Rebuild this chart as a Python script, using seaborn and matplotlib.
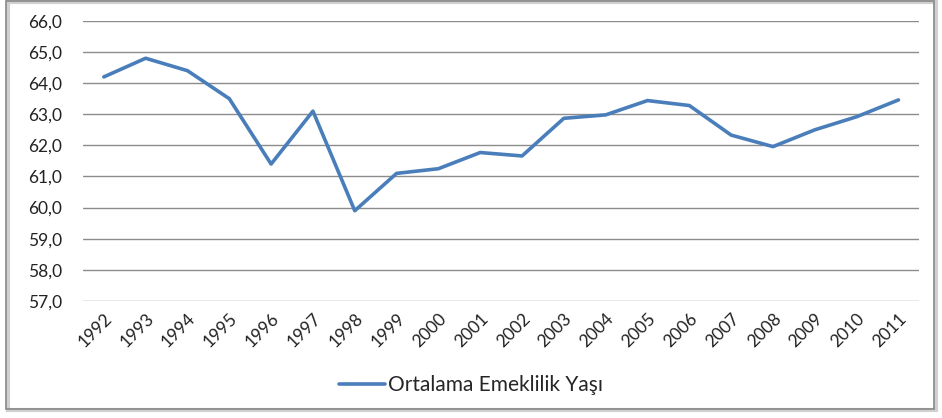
import pandas as pd
import seaborn as sns
import matplotlib.pyplot as plt
from matplotlib.patches import Rectangle

sns.set_style('white')
plt.rcParams['font.family'] = ['Lato', 'DejaVu Sans']

years = [str(y) for y in range(1992, 2012)]
age = [64.2, 64.8, 64.4, 63.5, 61.4, 63.1, 59.9, 61.1, 61.25, 61.77,
       61.66, 62.87, 62.98, 63.44, 63.28, 62.33, 61.96, 62.5, 62.92, 63.46]
series_name = 'Ortalama Emeklilik Yaşı'

df = pd.DataFrame({'year': years, 'age': age})

fig = plt.figure(figsize=(9.42, 4.18), dpi=100)
ax = fig.add_axes([0.088, 0.280, 0.888, 0.670])

sns.lineplot(data=df, x='year', y='age', ax=ax, color='#4a7ebb',
             linewidth=2.6, label=series_name, sort=False)

ax.set_xlim(-0.5, len(years) - 0.5)
ax.set_ylim(57, 66)
ax.set_yticks(range(57, 67))
ax.set_yticklabels([f'{v},0' for v in range(57, 67)])
ax.set_xticks(range(len(years)))
ax.set_xticklabels(years, rotation=45, ha='right', rotation_mode='anchor')
ax.tick_params(axis='both', labelsize=12.5, colors='#222222', length=0)
ax.tick_params(axis='y', pad=15)
ax.tick_params(axis='x', pad=7)
ax.yaxis.grid(True, color='#8c8c8c', linewidth=1)
ax.set_axisbelow(True)
for s in ax.spines.values():
    s.set_visible(False)
ax.set_xlabel('')
ax.set_ylabel('')

ax.legend(loc='center', bbox_to_anchor=(0.5, 0.079), bbox_transform=fig.transFigure,
          frameon=False, fontsize=15, handlelength=2.2, handletextpad=0.15)

# chart border with light shadow
fig.patches.append(Rectangle((0.009, 0.018), 0.985, 0.978, transform=fig.transFigure,
                             fill=False, edgecolor='#d0d0d0', linewidth=3, zorder=0))
fig.patches.append(Rectangle((0.006, 0.022), 0.985, 0.976, transform=fig.transFigure,
                             fill=False, edgecolor='#888888', linewidth=1.2, zorder=1))

fig.savefig('out.png', dpi=100)
